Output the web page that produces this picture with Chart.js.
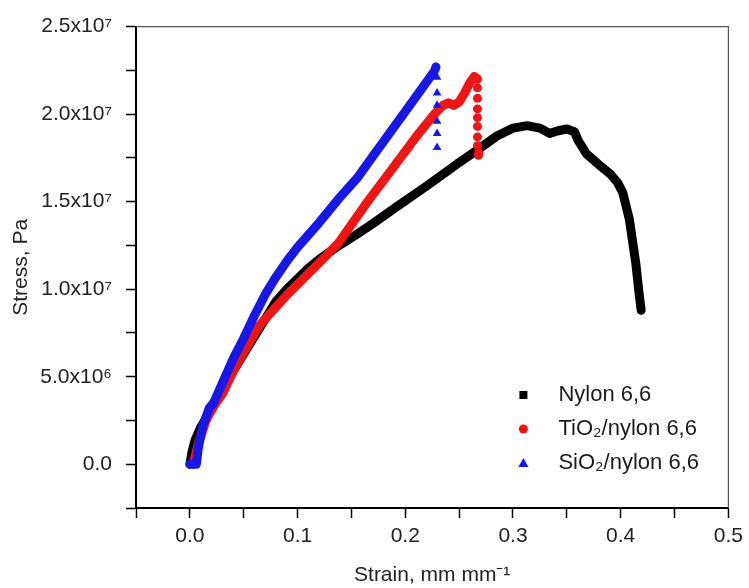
<!DOCTYPE html>
<html>
<head>
<meta charset="utf-8">
<title>Stress-strain</title>
<script src="https://cdn.jsdelivr.net/npm/chart.js@4/dist/chart.umd.min.js"></script>
<style>
  body { margin: 0; background: #fff; }
</style>
</head>
<body>
<canvas id="stressChart" width="749" height="588"></canvas>
<script>
'use strict';
// curve data (strain in mm/mm, stress in Pa)
var nylonStrain = [0, 0.002, 0.005, 0.01, 0.02, 0.03, 0.04, 0.05, 0.06, 0.07, 0.08, 0.09, 0.10, 0.11, 0.12, 0.135, 0.153, 0.17, 0.193, 0.22, 0.248, 0.267, 0.285, 0.30, 0.313, 0.325, 0.334, 0.342, 0.35, 0.357, 0.3605, 0.368, 0.38, 0.39, 0.397, 0.402, 0.408, 0.414, 0.417, 0.419];
var nylonStress = [0, 0.07e7, 0.14e7, 0.21e7, 0.31e7, 0.42e7, 0.53e7, 0.63e7, 0.73e7, 0.83e7, 0.93e7, 1.0e7, 1.06e7, 1.12e7, 1.17e7, 1.235e7, 1.305e7, 1.375e7, 1.475e7, 1.59e7, 1.715e7, 1.795e7, 1.875e7, 1.92e7, 1.934e7, 1.92e7, 1.89e7, 1.905e7, 1.915e7, 1.90e7, 1.85e7, 1.775e7, 1.71e7, 1.66e7, 1.61e7, 1.55e7, 1.40e7, 1.15e7, 0.98e7, 0.88e7];

var tioStrain = [0.003, 0.008, 0.015, 0.022, 0.03, 0.043, 0.064, 0.089, 0.12, 0.138, 0.165, 0.187, 0.21, 0.227, 0.235, 0.24, 0.245, 0.25, 0.255, 0.26, 0.264, 0.267];
var tioStress = [0, 0.12e7, 0.25e7, 0.33e7, 0.40e7, 0.566e7, 0.79e7, 0.96e7, 1.15e7, 1.264e7, 1.50e7, 1.68e7, 1.87e7, 2.0e7, 2.05e7, 2.065e7, 2.05e7, 2.07e7, 2.12e7, 2.18e7, 2.215e7, 2.20e7];
// loose markers after the break
var tioDropStrain = [0.267, 0.267, 0.267, 0.267, 0.267, 0.267, 0.267, 0.268, 0.268];
var tioDropStress = [2.15e7, 2.09e7, 2.03e7, 1.98e7, 1.93e7, 1.87e7, 1.82e7, 1.78e7, 1.765e7];

var sioStrain = [0, 0.006, 0.008, 0.012, 0.018, 0.022, 0.03, 0.04, 0.05, 0.06, 0.07, 0.08, 0.09, 0.10, 0.11, 0.12, 0.14, 0.156, 0.17, 0.19, 0.21, 0.227, 0.2285];
var sioStress = [0, 0, 0.1e7, 0.22e7, 0.32e7, 0.35e7, 0.46e7, 0.6e7, 0.72e7, 0.85e7, 0.97e7, 1.07e7, 1.16e7, 1.24e7, 1.31e7, 1.38e7, 1.53e7, 1.64e7, 1.76e7, 1.93e7, 2.10e7, 2.245e7, 2.27e7];
var sioDropStrain = [0.2295, 0.2295, 0.2295, 0.2295, 0.2295, 0.2295];
var sioDropStress = [2.21e7, 2.12e7, 2.05e7, 1.96e7, 1.89e7, 1.81e7];

var seriesNames = ['Nylon 6,6', 'TiO\u2082/nylon 6,6', 'SiO\u2082/nylon 6,6'];
var seriesColors = ['#000000', '#f01414', '#1717e8'];
var seriesMarkers = ['rect', 'circle', 'triangle'];
var xTickLabels = ['0.0', '0.1', '0.2', '0.3', '0.4', '0.5'];
var yTickLabels = ['0.0', '5.0x10\u2076', '1.0x10\u2077', '1.5x10\u2077', '2.0x10\u2077', '2.5x10\u2077'];

var fontFamily = '"Liberation Sans", Arial, Helvetica, sans-serif';

function toPoints(xs, ys) {
  var pts = [];
  for (var i = 0; i < xs.length; i++) {
    pts.push({x: xs[i], y: ys[i]});
  }
  return pts;
}

// builds one series; points from dropStart on are drawn as markers only
function makeSeries(i, xs, ys, dropXs, dropYs, radius, order) {
  var dropStart = xs.length;
  var color = seriesColors[i];
  return {
    label: seriesNames[i],
    data: toPoints(xs.concat(dropXs), ys.concat(dropYs)),
    showLine: true,
    borderColor: color,
    backgroundColor: color,
    borderWidth: 9,
    borderCapStyle: 'round',
    borderJoinStyle: 'round',
    pointStyle: seriesMarkers[i],
    pointRadius: function(ctx) { return ctx.dataIndex >= dropStart ? radius : 0; },
    pointBorderWidth: 0,
    pointHoverRadius: 0,
    order: order,
    segment: {
      borderColor: function(ctx) { return ctx.p1DataIndex >= dropStart ? 'rgba(0,0,0,0)' : color; }
    }
  };
}

function drawMarker(ctx, style, x, y, color) {
  ctx.fillStyle = color;
  ctx.beginPath();
  if (style === 'rect') {
    ctx.rect(x - 4, y - 4, 8, 8);
  } else if (style === 'circle') {
    ctx.arc(x, y, 4.5, 0, Math.PI * 2);
  } else {
    ctx.moveTo(x, y - 5);
    ctx.lineTo(x + 5, y + 4);
    ctx.lineTo(x - 5, y + 4);
    ctx.closePath();
  }
  ctx.fill();
}

// legend sits inside the plot, lower right
var insideLegend = {
  id: 'insideLegend',
  afterDraw: function(chart) {
    var ctx = chart.ctx;
    var area = chart.chartArea;
    ctx.save();
    ctx.font = '22px ' + fontFamily;
    ctx.textBaseline = 'middle';
    chart.data.datasets.forEach(function(ds, i) {
      var y = area.bottom - 113 + i * 34;
      var x = area.right - 205;
      drawMarker(ctx, ds.pointStyle, x, y, ds.borderColor);
      ctx.fillStyle = '#1c1c1c';
      ctx.fillText(ds.label, x + 35, y);
    });
    ctx.restore();
  }
};

// top and right edge of the frame
var frameBox = {
  id: 'frameBox',
  afterDraw: function(chart) {
    var ctx = chart.ctx;
    var a = chart.chartArea;
    ctx.save();
    ctx.strokeStyle = '#555';
    ctx.lineWidth = 1.2;
    ctx.beginPath();
    ctx.moveTo(a.left, a.top);
    ctx.lineTo(a.right, a.top);
    ctx.lineTo(a.right, a.bottom);
    ctx.stroke();
    ctx.restore();
  }
};

Chart.defaults.font.family = fontFamily;
Chart.defaults.color = '#222';

var ctx = document.getElementById('stressChart').getContext('2d');
var chart = new Chart(ctx, {
  type: 'scatter',
  data: {
    datasets: [
      makeSeries(0, nylonStrain, nylonStress, [], [], 0, 3),
      makeSeries(1, tioStrain, tioStress, tioDropStrain, tioDropStress, 4.5, 2),
      makeSeries(2, sioStrain, sioStress, sioDropStrain, sioDropStress, 5, 1)
    ]
  },
  options: {
    responsive: false,
    animation: false,
    events: [],
    layout: { padding: { top: 22, right: 16, left: 0, bottom: 0 } },
    plugins: {
      legend: { display: false },
      tooltip: { enabled: false }
    },
    scales: {
      x: {
        type: 'linear',
        min: -0.05,
        max: 0.5,
        afterFit: function(scale) { scale.height = 80; },
        border: { color: '#000', width: 2 },
        grid: { drawOnChartArea: false, tickLength: 10, color: '#000', tickWidth: 1.5 },
        ticks: {
          stepSize: 0.05,
          autoSkip: false,
          maxRotation: 0,
          padding: 6,
          font: { size: 21 },
          callback: function(value) {
            var k = Math.round(value * 100);
            if (k < 0 || k % 10 !== 0) return '';
            return xTickLabels[k / 10];
          }
        },
        title: {
          display: true,
          text: 'Strain, mm mm\u207B\u00B9',
          font: { size: 21 },
          padding: { top: 0, bottom: 0 }
        }
      },
      y: {
        type: 'linear',
        min: -2.5e6,
        max: 2.5e7,
        afterFit: function(scale) { scale.width = 136; },
        border: { color: '#000', width: 2 },
        grid: { drawOnChartArea: false, tickLength: 10, color: '#000', tickWidth: 1.5 },
        ticks: {
          stepSize: 2.5e6,
          autoSkip: false,
          padding: 14,
          font: { size: 21 },
          callback: function(value) {
            var k = Math.round(value / 2.5e6);
            if (k < 0 || k % 2 !== 0) return '';
            return yTickLabels[k / 2];
          }
        },
        title: {
          display: true,
          text: 'Stress, Pa',
          font: { size: 21 },
          padding: { top: 9, bottom: 0 }
        }
      }
    }
  },
  plugins: [insideLegend, frameBox]
});
</script>
</body>
</html>
